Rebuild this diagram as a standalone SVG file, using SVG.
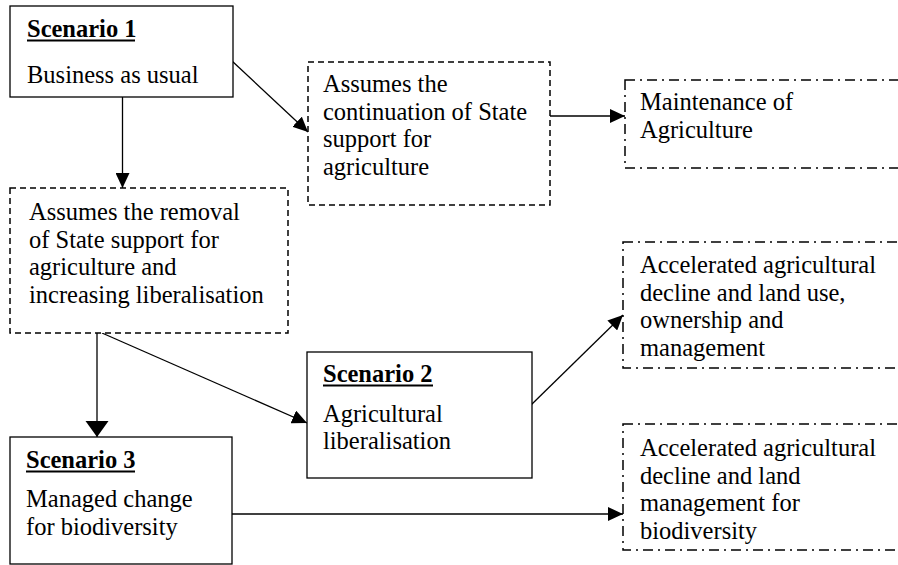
<svg xmlns="http://www.w3.org/2000/svg" width="898" height="565" viewBox="0 0 898 565">
<style>
  text { font-family: "Liberation Serif", "Times New Roman", serif; font-size: 24.5px; fill: #000; }
  .title { font-weight: bold; }
  .solid { fill: #fff; stroke: #000; stroke-width: 1.3; }
  .dashed { fill: #fff; stroke: #000; stroke-width: 1.5; stroke-dasharray: 6 4; }
  .dashdot { fill: #fff; stroke: #000; stroke-width: 1.5; stroke-dasharray: 10 5 2 5; }
  .ul { stroke: #000; stroke-width: 2; }
  .conn { fill: none; stroke: #000; stroke-width: 1.3; }
</style>
<defs>
  <marker id="ah" markerUnits="userSpaceOnUse" markerWidth="16" markerHeight="14" refX="15" refY="7" orient="auto">
    <path d="M0,0 L15,7 L0,14 z" fill="#000"/>
  </marker>
  <marker id="ahbig" markerUnits="userSpaceOnUse" markerWidth="17" markerHeight="24" refX="16" refY="11.5" orient="auto">
    <path d="M0,0 L16,11.5 L0,23 z" fill="#000"/>
  </marker>
</defs>
<rect width="898" height="565" fill="#fff"/>

<g id="connectors">
  <line class="conn" x1="122.5" y1="97" x2="122.5" y2="188" marker-end="url(#ah)"/>
  <line class="conn" x1="232" y1="61" x2="308" y2="132" marker-end="url(#ah)"/>
  <line class="conn" x1="550" y1="116" x2="625" y2="116" marker-end="url(#ah)"/>
  <line class="conn" x1="97" y1="333" x2="97" y2="437" marker-end="url(#ahbig)"/>
  <line class="conn" x1="102" y1="333" x2="307" y2="423" marker-end="url(#ah)"/>
  <line class="conn" x1="531" y1="405" x2="623" y2="315" marker-end="url(#ah)"/>
  <line class="conn" x1="232" y1="514" x2="623" y2="514" marker-end="url(#ah)"/>
</g>

<g id="scenario1">
  <rect class="solid" x="10" y="6" width="223" height="91"/>
  <text class="title" x="27" y="37">Scenario 1</text>
  <line class="ul" x1="27" y1="40.5" x2="135" y2="40.5"/>
  <text x="27" y="83">Business as usual</text>
</g>

<g id="continuation">
  <rect class="dashed" x="308" y="62" width="242" height="143"/>
  <text x="323" y="92">Assumes the</text>
  <text x="323" y="119.5">continuation of State</text>
  <text x="323" y="147">support for</text>
  <text x="323" y="174.5">agriculture</text>
</g>

<g id="maintenance">
  <rect class="dashdot" x="625" y="80" width="280" height="88"/>
  <text x="640" y="110">Maintenance of</text>
  <text x="640" y="137.5">Agriculture</text>
</g>

<g id="removal">
  <rect class="dashed" x="10" y="188" width="278" height="145"/>
  <text x="29" y="220">Assumes the removal</text>
  <text x="29" y="247.5">of State support for</text>
  <text x="29" y="275">agriculture and</text>
  <text x="29" y="302.5">increasing liberalisation</text>
</g>

<g id="accelerated1">
  <rect class="dashdot" x="623" y="242" width="282" height="126"/>
  <text x="640" y="273">Accelerated agricultural</text>
  <text x="640" y="300.5">decline and land use,</text>
  <text x="640" y="328">ownership and</text>
  <text x="640" y="355.5">management</text>
</g>

<g id="scenario2">
  <rect class="solid" x="307" y="352" width="225" height="126"/>
  <text class="title" x="323" y="382">Scenario 2</text>
  <line class="ul" x1="323" y1="385.5" x2="433" y2="385.5"/>
  <text x="323" y="422">Agricultural</text>
  <text x="323" y="449">liberalisation</text>
</g>

<g id="scenario3">
  <rect class="solid" x="10" y="437" width="222" height="127"/>
  <text class="title" x="26" y="468">Scenario 3</text>
  <line class="ul" x1="26" y1="471.5" x2="135" y2="471.5"/>
  <text x="26" y="507">Managed change</text>
  <text x="26" y="535">for biodiversity</text>
</g>

<g id="accelerated2">
  <rect class="dashdot" x="623" y="424" width="282" height="126"/>
  <text x="640" y="456">Accelerated agricultural</text>
  <text x="640" y="483.5">decline and land</text>
  <text x="640" y="511">management for</text>
  <text x="640" y="538.5">biodiversity</text>
</g>
</svg>
